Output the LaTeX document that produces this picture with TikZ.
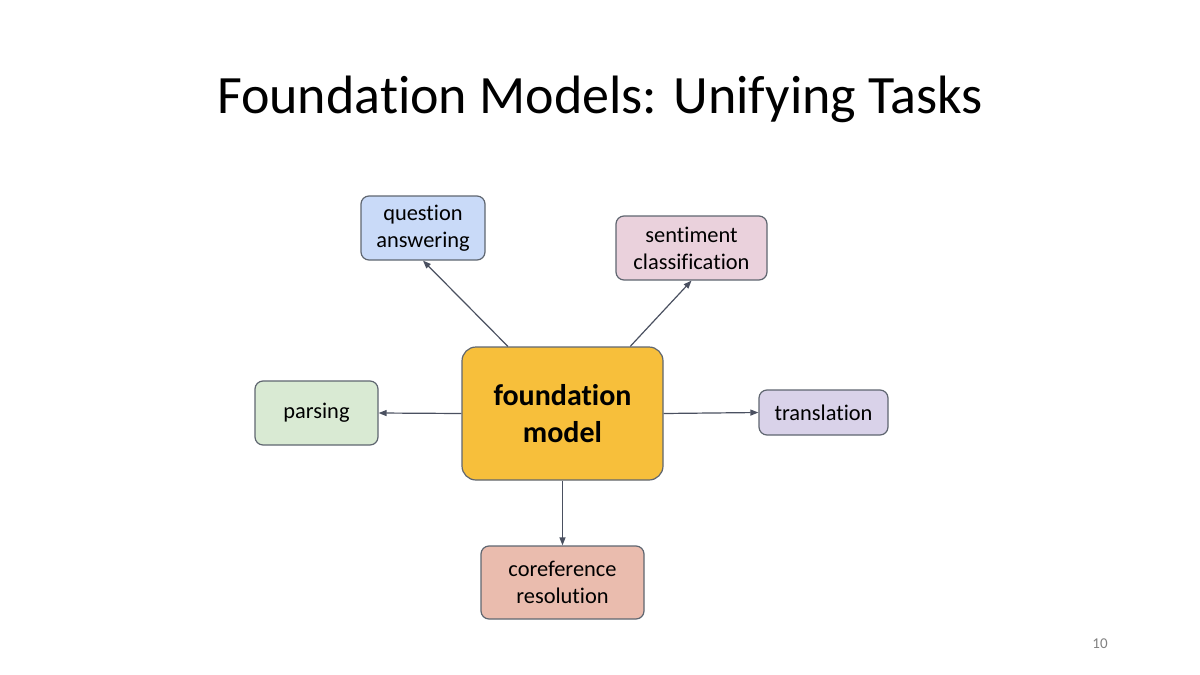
\documentclass[tikz,border=0pt]{standalone}
\usepackage{fontspec}
\setmainfont{Carlito}[Ligatures=NoCommon]
\usetikzlibrary{arrows.meta, calc}

\definecolor{qablue}{HTML}{C9DAF8}
\definecolor{scpink}{HTML}{EAD1DC}
\definecolor{fmgold}{HTML}{F7BF3B}
\definecolor{psgreen}{HTML}{D9EAD3}
\definecolor{trlilac}{HTML}{D9D2E9}
\definecolor{crsalmon}{HTML}{EABCAE}
\definecolor{edgegray}{HTML}{5F6670}
\definecolor{arrgray}{HTML}{4A5060}

\begin{document}
\begin{tikzpicture}[
  x=0.5pt, y=-0.5pt,
  font=\fontsize{11.2pt}{13.5pt}\selectfont,
  task/.style={rectangle, rounded corners=4pt, draw=edgegray, line width=0.6pt,
               align=center, inner sep=0pt},
  core/.style={rectangle, rounded corners=7pt, draw=edgegray, line width=0.6pt,
               align=center, inner sep=0pt, fill=fmgold,
               font=\fontsize{15pt}{18.5pt}\selectfont\bfseries},
  arr/.style={-{Triangle[length=4pt, width=3pt]}, draw=arrgray, line width=0.6pt}]
  \useasboundingbox (0,0) rectangle (1200,675);
  \node[font=\fontsize{27pt}{30pt}\selectfont, anchor=base] (title) at (600,113)
    {Foundation Models: Unifying Tasks};
  \node[core, minimum width=100.5pt, minimum height=66.5pt] (fm) at (562.5,413.5)
    {foundation\\model};
  \node[task, fill=qablue, minimum width=62pt, minimum height=32pt] (qa) at (423,228)
    {question\\answering};
  \node[task, fill=scpink, minimum width=75.5pt, minimum height=32pt] (sc) at (691.5,248)
    {sentiment\\classification};
  \node[task, fill=psgreen, minimum width=61.5pt, minimum height=32pt] (ps) at (316.5,413)
    {parsing};
  \node[task, fill=trlilac, minimum width=64.5pt, minimum height=22.5pt] (tr) at (823.5,412.5)
    {translation};
  \node[task, fill=crsalmon, minimum width=81.5pt, minimum height=36.5pt] (cr) at (562.5,582.5)
    {coreference\\resolution};
  \node[text=gray, font=\fontsize{7.5pt}{8pt}\selectfont] (page) at (1100,644) {10};
  \draw[arr] ($(fm.north west)!0.23!(fm.north east)$) -- (qa.south);
  \draw[arr] ($(fm.north west)!0.835!(fm.north east)$) -- (sc.south);
  \draw[arr] (fm.west) -- (ps.east);
  \draw[arr] (fm.east) -- (tr.west);
  \draw[arr] (fm.south) -- (cr.north);
\end{tikzpicture}
\end{document}
